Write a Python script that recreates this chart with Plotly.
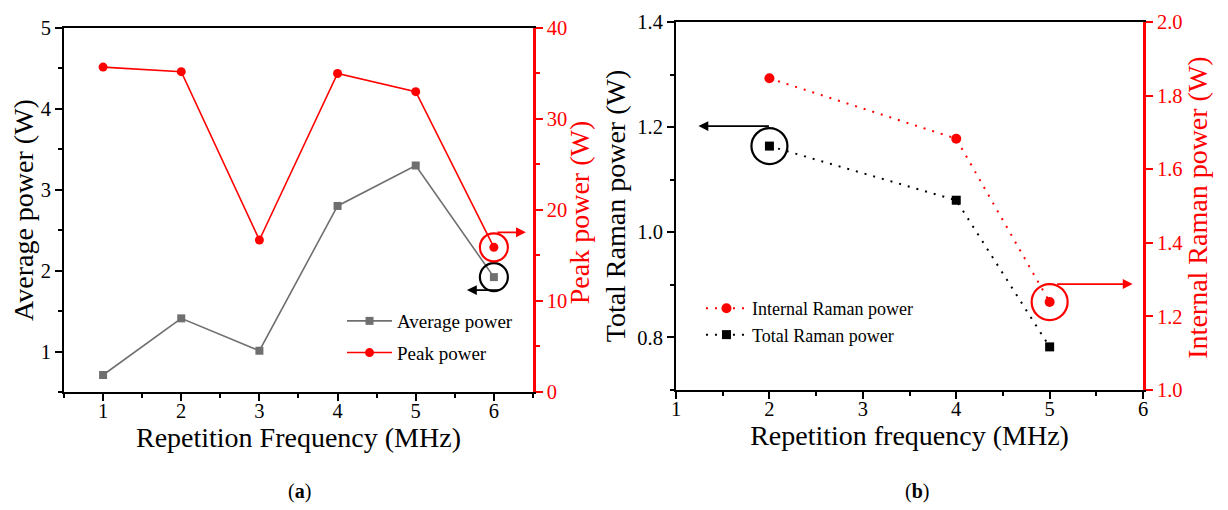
import plotly.graph_objects as go

# ---------------- data ----------------
freq_a = [1, 2, 3, 4, 5, 6]
avg_power = [0.71, 1.41, 1.01, 2.80, 3.30, 1.92]
peak_power = [35.7, 35.2, 16.7, 35.0, 33.0, 15.9]

freq_b = [2, 4, 5]
internal_raman = [1.847, 1.683, 1.239]
total_raman = [1.164, 1.061, 0.782]

FONT = "Liberation Serif, Times New Roman, serif"
RED = "#ff0000"
GRAY = "#6f6f6f"

fig = go.Figure()

# ---- panel (a) ----
fig.add_trace(go.Scatter(x=freq_a, y=avg_power, name="Average power", mode="lines+markers",
                         line=dict(color=GRAY, width=1.6),
                         marker=dict(symbol="square", size=8, color=GRAY),
                         xaxis="x", yaxis="y", legend="legend", legendgroup="a1"))
fig.add_trace(go.Scatter(x=freq_a, y=peak_power, name="Peak power", mode="lines+markers",
                         line=dict(color=RED, width=1.6),
                         marker=dict(symbol="circle", size=9, color=RED),
                         xaxis="x", yaxis="y2", legend="legend", legendgroup="a2"))

# ---- panel (b) ----
fig.add_trace(go.Scatter(x=freq_b, y=internal_raman, name="Internal Raman power", mode="lines+markers",
                         line=dict(color=RED, width=2, dash="2px,7px"),
                         marker=dict(symbol="circle", size=10, color=RED),
                         xaxis="x2", yaxis="y4", legend="legend2"))
fig.add_trace(go.Scatter(x=freq_b, y=total_raman, name="Total Raman power", mode="lines+markers",
                         line=dict(color="black", width=2, dash="2px,7px"),
                         marker=dict(symbol="square", size=9, color="black"),
                         xaxis="x2", yaxis="y3", legend="legend2"))

tickfont_k = dict(family=FONT, size=20.5, color="black")
tickfont_r = dict(family=FONT, size=20.5, color=RED)
titlefont_k = dict(family=FONT, size=28, color="black")
titlefont_r = dict(family=FONT, size=28, color=RED)

common_k = dict(showgrid=False, zeroline=False, showline=True, linecolor="black", linewidth=2,
                ticks="outside", ticklen=7, tickwidth=2, tickcolor="black", tickfont=tickfont_k)
common_r = dict(showgrid=False, zeroline=False, showline=True, linecolor=RED, linewidth=2.5,
                ticks="outside", ticklen=7, tickwidth=2, tickcolor=RED, tickfont=tickfont_r)

fig.update_layout(
    width=1228, height=510,
    margin=dict(l=0, r=0, t=0, b=0),
    paper_bgcolor="white", plot_bgcolor="white",
    font=dict(family=FONT, size=20, color="black"),
    xaxis=dict(domain=[0.0456, 0.4275], anchor="y", range=[0.5, 6.5], tick0=1, dtick=1,
               mirror=True, automargin=False, ticklabelstandoff=-8,
               minor=dict(ticks="outside", ticklen=4, tickwidth=1.5, tickcolor="black", tick0=0.5, dtick=0.5),
               title=dict(text="Repetition Frequency (MHz)", font=titlefont_k, standoff=3),
               **common_k),
    yaxis=dict(domain=[0.2471, 0.9608], anchor="x", range=[0.5, 5], tick0=1, dtick=1, automargin=False,
               minor=dict(ticks="outside", ticklen=4, tickwidth=1.5, tickcolor="black", tick0=0.5, dtick=0.5),
               title=dict(text="Average power (W)", font=titlefont_k, standoff=3),
               **common_k),
    yaxis2=dict(overlaying="y", side="right", anchor="x", range=[0, 40], tick0=0, dtick=10, automargin=False,
                minor=dict(ticks="outside", ticklen=4, tickwidth=1.5, tickcolor=RED, tick0=0, dtick=5),
                **common_r),
    xaxis2=dict(domain=[0.544, 0.9243], anchor="y3", range=[1, 6], tick0=1, dtick=1,
                mirror=True, automargin=False, ticklabelstandoff=-8,
                minor=dict(ticks="outside", ticklen=4, tickwidth=1.5, tickcolor="black", tick0=1.5, dtick=0.5),
                title=dict(text="Repetition frequency (MHz)", font=titlefont_k, standoff=3),
                **common_k),
    yaxis3=dict(domain=[0.251, 0.9725], anchor="x2", range=[0.7, 1.4], tick0=0.8, dtick=0.2,
                tickformat=".1f", automargin=False,
                minor=dict(ticks="outside", ticklen=4, tickwidth=1.5, tickcolor="black", tick0=0.7, dtick=0.1),
                title=dict(text="Total Raman power (W)", font=titlefont_k, standoff=3),
                **common_k),
    yaxis4=dict(overlaying="y3", side="right", anchor="x2", range=[1.0, 2.0], tick0=1.0, dtick=0.2,
                tickformat=".1f", automargin=False,
                **common_r),
    legend=dict(x=0.272, y=0.4235, xanchor="left", yanchor="top", bgcolor="rgba(0,0,0,0)",
                itemwidth=45, traceorder="grouped", tracegroupgap=4,
                font=dict(family=FONT, size=19, color="black")),
    legend2=dict(x=0.5643, y=0.447, xanchor="left", yanchor="top", bgcolor="rgba(0,0,0,0)",
                 itemwidth=41,
                 font=dict(family=FONT, size=18, color="black")),
    showlegend=True,
)

# ---- right-hand axis titles (red) ----
fig.add_annotation(x=0.4660, y=0.5981, xref="paper", yref="paper", xanchor="center", yanchor="middle",
                   text="Peak power (W)", textangle=-90, showarrow=False, font=titlefont_r)
fig.add_annotation(x=0.9680, y=0.6078, xref="paper", yref="paper", xanchor="center", yanchor="middle",
                   text="Internal Raman power (W)", textangle=-90, showarrow=False, font=titlefont_r)

# ---- marker circles (pixel-sized, anchored on data points) ----
def ring(xref, yref, xa, ya, r, color):
    return dict(type="circle", xref=xref, yref=yref, xsizemode="pixel", ysizemode="pixel",
                xanchor=xa, yanchor=ya, x0=-r, x1=r, y0=-r, y1=r,
                line=dict(color=color, width=2.2), fillcolor="rgba(0,0,0,0)")

fig.add_shape(**ring("x", "y", freq_a[-1], avg_power[-1], 14, "black"))
fig.add_shape(**ring("x", "y2", freq_a[-1], peak_power[-1], 14, RED))
fig.add_shape(**ring("x2", "y3", freq_b[0], total_raman[0], 18, "black"))
fig.add_shape(**ring("x2", "y4", freq_b[-1], internal_raman[-1], 18, RED))

# ---- arrows pointing to the relevant axis ----
def arrow(xref, yref, xv, yv, xs, ys, ax, color):
    return dict(xref=xref, yref=yref, x=xv, y=yv, xshift=xs, yshift=ys, text="",
                showarrow=True, ax=ax, ay=0, arrowhead=2, arrowsize=1.1, arrowwidth=1.8,
                arrowcolor=color)

fig.add_annotation(**arrow("x", "y", freq_a[-1], avg_power[-1], -27, -13, 34, "black"))
fig.add_annotation(**arrow("x", "y2", freq_a[-1], peak_power[-1], 32, 15, -30, RED))
fig.add_annotation(**arrow("x2", "y3", freq_b[0], total_raman[0], -71, 20, 72, "black"))
fig.add_annotation(**arrow("x2", "y4", freq_b[-1], internal_raman[-1], 83, 18, -77, RED))

# ---- panel captions ----
fig.add_annotation(x=0.237, y=0.051, xref="paper", yref="paper", xanchor="center", yanchor="middle",
                   text="(<b>a</b>)", showarrow=False, font=dict(family=FONT, size=20, color="black"))
fig.add_annotation(x=0.740, y=0.051, xref="paper", yref="paper", xanchor="center", yanchor="middle",
                   text="(<b>b</b>)", showarrow=False, font=dict(family=FONT, size=20, color="black"))

fig.write_html("out.html")
